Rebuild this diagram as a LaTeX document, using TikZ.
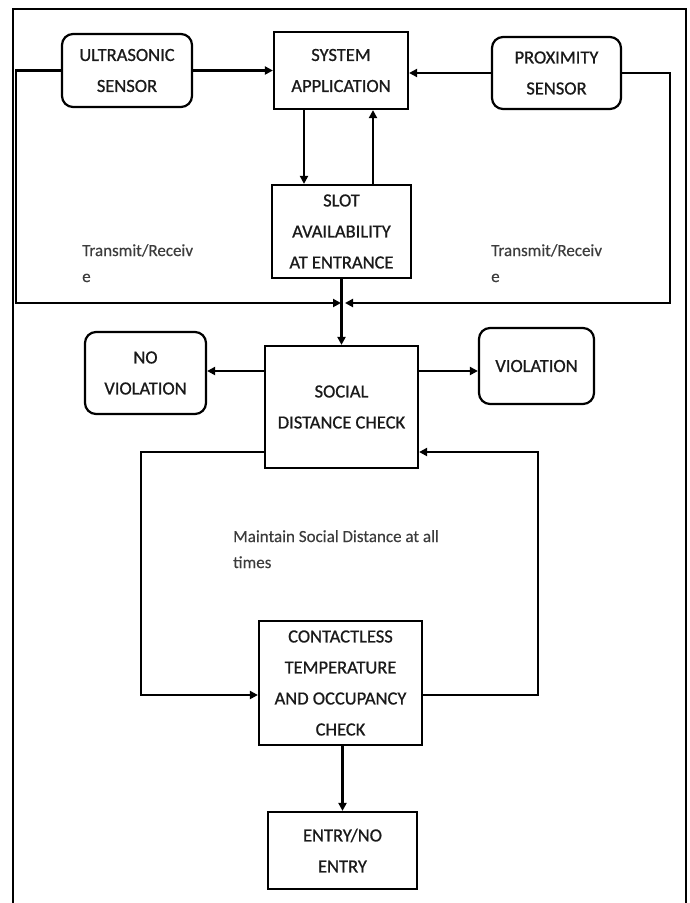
\documentclass[tikz,border=0pt]{standalone}
\usepackage{fontspec}
\setmainfont{Carlito}
\newfontfamily\boxfont[FakeBold=0.8]{Carlito}
\newfontfamily\lblfont[FakeBold=0.3]{Carlito}
\usetikzlibrary{arrows.meta}
\definecolor{lbl}{HTML}{3C3C3C}
\definecolor{ink}{HTML}{1A1A1A}
\tikzset{
  box/.style={draw=black, line width=2.2pt, rectangle, align=center, inner sep=0pt,
    text=ink, font=\boxfont\fontsize{18.5}{31}\selectfont},
  rbox/.style={box, rounded corners=11pt},
  arr/.style={line width=2.2pt, -{Triangle[length=8pt,width=8pt]}},
  lbltext/.style={align=left, inner sep=0pt, text=lbl, anchor=base west,
    font=\lblfont\fontsize{17}{26}\selectfont}
}
\begin{document}
\begin{tikzpicture}[x=1pt,y=-1pt]
\useasboundingbox (0,0) rectangle (689,903);
\fill[white] (0,0) rectangle (689,903);
\draw[line width=2.6pt] (13,903) -- (13,9) -- (686,9) -- (686,903);

% nodes
\node[rbox, minimum width=130pt, minimum height=73pt] (us) at (127,70.5) {ULTRASONIC\\SENSOR};
\node[box, minimum width=134pt, minimum height=77pt] (sys) at (341,70.5) {SYSTEM\\APPLICATION};
\node[rbox, minimum width=129pt, minimum height=72pt] (prox) at (556.5,73) {PROXIMITY\\SENSOR};
\node[box, minimum width=139pt, minimum height=93pt] (slot) at (341.5,231.5) {SLOT\\AVAILABILITY\\AT ENTRANCE};
\node[rbox, minimum width=121pt, minimum height=82pt] (nov) at (145.5,373) {NO\\VIOLATION};
\node[box, minimum width=153pt, minimum height=122pt] (sdc) at (341.5,407) {SOCIAL\\DISTANCE CHECK};
\node[rbox, minimum width=115pt, minimum height=76pt] (vio) at (536.5,366) {VIOLATION};
\node[box, minimum width=163pt, minimum height=124pt] (cont) at (340.5,683) {CONTACTLESS\\TEMPERATURE\\AND OCCUPANCY\\CHECK};
\node[box, minimum width=149pt, minimum height=77pt] (entry) at (342.5,850.5) {ENTRY/NO\\ENTRY};

% labels
\node[lbltext] (tl) at (82,282) {Transmit/Receiv\\e};
\node[lbltext] (tr) at (491,282) {Transmit/Receiv\\e};
\node[lbltext] (mt) at (233,568) {Maintain Social Distance at all\\times};

% helper coordinates
\coordinate (jn) at (342,303);
\coordinate (L) at (16,303);
\coordinate (R) at (670,303);
\coordinate (BL) at (141,695);
\coordinate (BR) at (538,452);

% connectors
\draw[arr] (us.east) -- (sys.west);
\draw[arr] (prox.west) -- (prox.west -| sys.east);
\draw[arr] (us.west) -| (L) -- ([xshift=-1pt]jn);
\draw[arr] (prox.east) -| (R) -- ([xshift=3pt]jn);
\draw[arr] ([xshift=-37pt]sys.south) -- ([xshift=-37pt]sys.south |- slot.north);
\draw[arr] ([xshift=31.5pt]slot.north) -- ([xshift=31.5pt]slot.north |- sys.south);
\draw[arr] (slot.south) -- (sdc.north);
\draw[arr] ([yshift=36pt]sdc.west) -- ([yshift=36pt]sdc.west -| nov.east);
\draw[arr] ([yshift=36pt]sdc.east) -- ([yshift=36pt]sdc.east -| vio.west);
\draw[arr] ([yshift=-45pt]sdc.west) -| (BL) -- (BL -| cont.west);
\draw[arr] ([yshift=-12pt]cont.east) -| (BR) -- (BR -| sdc.east);
\draw[arr] (entry.north |- cont.south) -- (entry.north);
\end{tikzpicture}
\end{document}
